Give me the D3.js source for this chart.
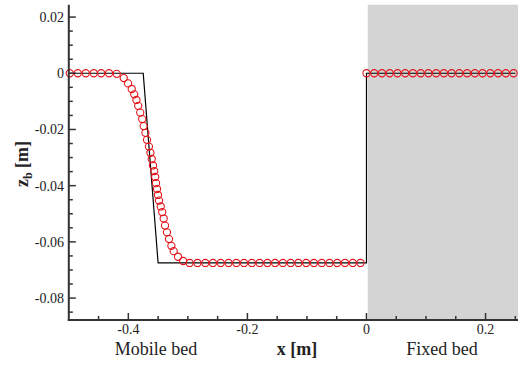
<!DOCTYPE html>
<html>
<head>
<meta charset="utf-8">
<script src="https://cdn.jsdelivr.net/npm/d3@7"></script>
<style>
  html, body { margin: 0; padding: 0; background: #fff; }
  svg { display: block; }
  svg text { font-family: "Liberation Serif", "Times New Roman", Times, Tinos, "Noto Serif", "DejaVu Serif", FreeSerif, serif; }
</style>
</head>
<body>
<svg id="chart" width="518" height="365"></svg>
<script>
// Analytical bed profile (black line): x [m], z_b [m]
const exactX = [-0.5, -0.375, -0.35, 0.0, 0.0, 0.25];
const exactZ = [0.0, 0.0, -0.0675, -0.0675, 0.0, 0.0];

// Computed bed profile (red circles)
const simX = [
  -0.4983, -0.4849, -0.4715, -0.4581, -0.4456, -0.4324, -0.4195,
  -0.4077, -0.4005, -0.3943, -0.3901, -0.3864, -0.3834, -0.3800, -0.3767,
  -0.3742, -0.3713, -0.3686, -0.3654, -0.3629, -0.3607, -0.3586, -0.3565,
  -0.3549, -0.3535, -0.3518, -0.3502, -0.3485, -0.3456, -0.3431, -0.3406,
  -0.3384, -0.3351, -0.3317, -0.3277, -0.3238, -0.3166, -0.3079, -0.2970,
  -0.2839, -0.2708, -0.2579, -0.2448, -0.2317, -0.2186, -0.2057, -0.1926,
  -0.1795, -0.1664, -0.1535, -0.1404, -0.1273, -0.1143, -0.1013, -0.0883,
  -0.0752, -0.0621, -0.0492, -0.0361, -0.0230, -0.0101,
  0.0000, 0.0130, 0.0260, 0.0390, 0.0520, 0.0650, 0.0780, 0.0910, 0.1040,
  0.1170, 0.1300, 0.1430, 0.1560, 0.1690, 0.1820, 0.1950, 0.2080, 0.2210,
  0.2340, 0.2470
];
const simZ = [
  0.0, 0.0, 0.0, 0.0, 0.0, 0.0, -0.0002,
  -0.0017, -0.0036, -0.0056, -0.0075, -0.0095, -0.0116, -0.0140, -0.0163,
  -0.0188, -0.0212, -0.0237, -0.0261, -0.0283, -0.0305, -0.0328, -0.0348,
  -0.0369, -0.0391, -0.0412, -0.0433, -0.0453, -0.0474, -0.0494, -0.0517,
  -0.0542, -0.0566, -0.0590, -0.0614, -0.0633, -0.0653, -0.0668, -0.0675,
  -0.0675, -0.0675, -0.0675, -0.0675, -0.0675, -0.0675, -0.0675, -0.0675,
  -0.0675, -0.0675, -0.0675, -0.0675, -0.0675, -0.0675, -0.0675, -0.0675,
  -0.0675, -0.0675, -0.0675, -0.0675, -0.0675, -0.0675,
  0.0, 0.0, 0.0, 0.0, 0.0, 0.0, 0.0, 0.0, 0.0,
  0.0, 0.0, 0.0, 0.0, 0.0, 0.0, 0.0, 0.0, 0.0,
  0.0, 0.0
];

// Axis ticks and labels
const xMajor = [-0.4, -0.2, 0, 0.2];
const xMinor = [-0.45, -0.35, -0.3, -0.25, -0.15, -0.1, -0.05, 0.05, 0.1, 0.15, 0.25];
const xTickLabels = ["-0.4", "-0.2", "0", "0.2"];
const yMajor = [0.02, 0, -0.02, -0.04, -0.06, -0.08];
const yMinor = [0.015, 0.01, 0.005, -0.005, -0.01, -0.015, -0.025, -0.03, -0.035,
                -0.045, -0.05, -0.055, -0.065, -0.07, -0.075, -0.085];
const yTickLabels = ["0.02", "0", "-0.02", "-0.04", "-0.06", "-0.08"];
const fixedBedStart = 0.0;

const svg = d3.select("#chart");
const x = d3.scaleLinear().domain([-0.5, 0.2545]).range([68.8, 518]);
const y = d3.scaleLinear().domain([-0.0878, 0.0244]).range([320, 4.7]);
const [x0, x1] = x.range();
const [yb, yt] = y.range();

// Fixed-bed shading
svg.append("rect")
  .attr("x", x(fixedBedStart) + 1.3)
  .attr("y", yt)
  .attr("width", x1 - x(fixedBedStart) - 1.3)
  .attr("height", yb - yt)
  .attr("fill", "#d4d4d4");

// Analytical profile
const exactPts = exactX.map((d, i) => [d, exactZ[i]]);
svg.append("path")
  .attr("d", d3.line().x(d => x(d[0])).y(d => y(d[1]))(exactPts))
  .attr("fill", "none")
  .attr("stroke", "#000")
  .attr("stroke-width", 1.2);

// Computed profile
svg.append("g").selectAll("circle")
  .data(simX.map((d, i) => [d, simZ[i]]))
  .join("circle")
  .attr("cx", d => x(d[0]))
  .attr("cy", d => y(d[1]))
  .attr("r", 3.6)
  .attr("fill", "none")
  .attr("stroke", "#e3141a")
  .attr("stroke-width", 1.1);

// Axes: ticks point inward
const axisColor = "#333";
const textColor = "#222";
const xAxis = svg.append("g");
xAxis.selectAll(".maj").data(xMajor).join("line")
  .attr("x1", d => x(d)).attr("x2", d => x(d))
  .attr("y1", yb).attr("y2", yb - 7)
  .attr("stroke", axisColor).attr("stroke-width", 1.5);
xAxis.selectAll(".min").data(xMinor).join("line")
  .attr("x1", d => x(d)).attr("x2", d => x(d))
  .attr("y1", yb).attr("y2", yb - 4)
  .attr("stroke", axisColor).attr("stroke-width", 1.5);
xAxis.selectAll("text").data(xMajor).join("text")
  .attr("x", d => x(d)).attr("y", 333.5)
  .attr("text-anchor", "middle")
  .attr("font-size", 14)
  .attr("fill", textColor)
  .text((d, i) => xTickLabels[i]);

const yAxis = svg.append("g");
yAxis.selectAll(".maj").data(yMajor).join("line")
  .attr("x1", x0).attr("x2", x0 + 7)
  .attr("y1", d => y(d)).attr("y2", d => y(d))
  .attr("stroke", axisColor).attr("stroke-width", 1.5);
yAxis.selectAll(".min").data(yMinor).join("line")
  .attr("x1", x0).attr("x2", x0 + 4)
  .attr("y1", d => y(d)).attr("y2", d => y(d))
  .attr("stroke", axisColor).attr("stroke-width", 1.5);
yAxis.selectAll("text").data(yMajor).join("text")
  .attr("x", 64).attr("y", d => y(d) + 5)
  .attr("text-anchor", "end")
  .attr("font-size", 14)
  .attr("fill", textColor)
  .text((d, i) => yTickLabels[i]);

// Axis lines
svg.append("line").attr("x1", x0).attr("x2", x0).attr("y1", yt).attr("y2", yb + 1)
  .attr("stroke", axisColor).attr("stroke-width", 2);
svg.append("line").attr("x1", x0 - 1).attr("x2", x1).attr("y1", yb).attr("y2", yb)
  .attr("stroke", axisColor).attr("stroke-width", 2);

// Titles
svg.append("text").attr("x", 156).attr("y", 355).attr("text-anchor", "middle")
  .attr("font-size", 18).attr("fill", textColor).text("Mobile bed");
svg.append("text").attr("x", 442).attr("y", 355).attr("text-anchor", "middle")
  .attr("font-size", 18).attr("fill", textColor).text("Fixed bed");
svg.append("text").attr("x", 297).attr("y", 355).attr("text-anchor", "middle")
  .attr("font-size", 18).attr("font-weight", "bold").attr("fill", textColor).text("x [m]");

const yl = svg.append("text")
  .attr("transform", "translate(28,164) rotate(-90)")
  .attr("text-anchor", "middle")
  .attr("font-size", 18).attr("font-weight", "bold").attr("fill", textColor);
yl.append("tspan").text("z");
yl.append("tspan").attr("font-size", 12).attr("dy", 4).text("b");
yl.append("tspan").attr("dy", -4).text(" [m]");
</script>
</body>
</html>
